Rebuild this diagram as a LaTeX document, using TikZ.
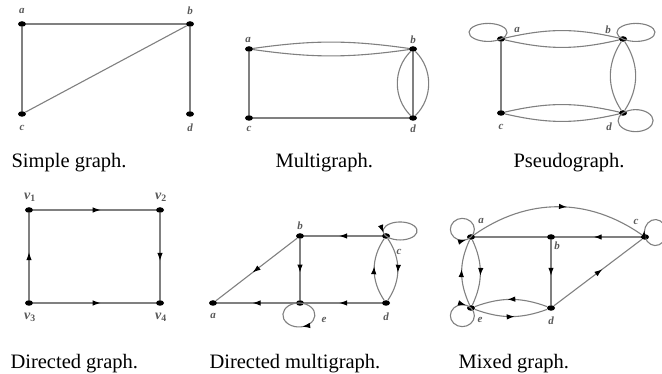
\documentclass[tikz,border=0pt]{standalone}
\usepackage{fontspec}
\setmainfont{Liberation Serif}
\usetikzlibrary{shapes.geometric,arrows.meta,decorations.markings}
\begin{document}
\begin{tikzpicture}[x=1pt,y=-1pt,
 vtx/.style={ellipse,fill=black,inner sep=0pt,minimum width=8pt,minimum height=5.5pt},
 edge/.style={draw=black!50,line width=1.1pt},
 lab/.style={font=\fontsize{11}{12}\selectfont\itshape\bfseries,text=black!65},
 vlab/.style={font=\fontsize{14}{15}\selectfont\bfseries,text=black!65},
 captext/.style={anchor=base west,font=\fontsize{20.5}{24}\selectfont},
 midarrow/.style={postaction={decorate},decoration={markings,mark=at position #1 with {\arrow[black]{Latex[length=8pt,width=5.5pt]}}}},
 midarrow/.default=0.55,
]
\useasboundingbox (0,0) rectangle (662,374);
% ---------- Simple graph
\node[vtx] (sa) at (22,24) {};
\node[vtx] (sb) at (190,24) {};
\node[vtx] (sc) at (22,114) {};
\node[vtx] (sd) at (190,114) {};
\draw[edge] (sa) -- (sb);
\draw[edge] (sa) -- (sc);
\draw[edge] (sb) -- (sc);
\draw[edge] (sb) -- (sd);
\node[lab] (lsa) at (22,11) {a};
\node[lab] (lsb) at (190,11) {b};
\node[lab] (lsc) at (22,128) {c};
\node[lab] (lsd) at (190,128) {d};
\node[captext] (cap1) at (8,168) {Simple graph.};
% ---------- Multigraph
\node[vtx] (ma) at (249,49) {};
\node[vtx] (mb) at (413,49) {};
\node[vtx] (mc) at (249,118) {};
\node[vtx] (md) at (413,118) {};
\draw[edge] (ma) to[bend left=8] (mb);
\draw[edge] (ma) to[bend right=8] (mb);
\draw[edge] (mb) -- (md);
\draw[edge] (mb) to[bend left=45] (md);
\draw[edge] (mb) to[bend right=45] (md);
\draw[edge] (ma) -- (mc);
\draw[edge] (mc) -- (md);
\node[lab] (lma) at (248,40) {a};
\node[lab] (lmb) at (413,40) {b};
\node[lab] (lmc) at (249,129) {c};
\node[lab] (lmd) at (413,129) {d};
\node[captext] (cap2) at (272,168) {Multigraph.};
% ---------- Pseudograph
\node[vtx] (pa) at (501,39) {};
\node[vtx] (pb) at (623,39) {};
\node[vtx] (pc) at (501,113) {};
\node[vtx] (pd) at (623,113) {};
\draw[edge] (pa) to[bend left=13] (pb);
\draw[edge] (pa) to[bend right=13] (pb);
\draw[edge] (pc) to[bend left=13] (pd);
\draw[edge] (pc) to[bend right=13] (pd);
\draw[edge] (pb) to[bend left=33] (pd);
\draw[edge] (pb) to[bend right=33] (pd);
\draw[edge] (pa) -- (pc);
\draw[edge] (pa) arc[start angle=47,end angle=407,x radius=19,y radius=9];
\draw[edge] (pb) arc[start angle=133,end angle=493,x radius=19,y radius=9];
\draw[edge] (pd) arc[start angle=224,end angle=584,x radius=17.5,y radius=11];
\node[lab] (lpa) at (517,30) {a};
\node[lab] (lpb) at (608,30) {b};
\node[lab] (lpc) at (501,127) {c};
\node[lab] (lpd) at (609,127) {d};
\node[captext] (cap3) at (510,168) {Pseudograph.};
% ---------- Directed graph
\node[vtx] (v1) at (29,210) {};
\node[vtx] (v2) at (160,210) {};
\node[vtx] (v3) at (29,303) {};
\node[vtx] (v4) at (160,303) {};
\draw[edge,midarrow] (v1) -- (v2);
\draw[edge,midarrow] (v2) -- (v4);
\draw[edge,midarrow] (v3) -- (v1);
\draw[edge,midarrow] (v3) -- (v4);
\node[vlab] (lv1) at (30,197) {\textit{v}\textsubscript{1}};
\node[vlab] (lv2) at (161,197) {\textit{v}\textsubscript{2}};
\node[vlab] (lv3) at (30,317) {\textit{v}\textsubscript{3}};
\node[vlab] (lv4) at (161,317) {\textit{v}\textsubscript{4}};
\node[captext] (cap4) at (7,369) {Directed graph.};
% ---------- Directed multigraph
\node[vtx] (da) at (213,303) {};
\node[vtx] (db) at (300,236) {};
\node[vtx] (dc) at (386,236) {};
\node[vtx] (dd) at (386,303) {};
\node[vtx] (de) at (300,303) {};
\draw[edge,midarrow] (db) -- (da);
\draw[edge,midarrow] (dc) -- (db);
\draw[edge,midarrow] (db) -- (de);
\draw[edge,midarrow] (de) -- (da);
\draw[edge,midarrow] (dd) -- (de);
\draw[edge,midarrow] (dd) to[bend left=34] (dc);
\draw[edge,midarrow] (dc) to[bend left=34] (dd);
\draw[edge,midarrow=0.95] (dc) arc[start angle=146,end angle=-214,x radius=17,y radius=9];
\draw[edge,midarrow=0.45] (de) arc[start angle=-86,end angle=274,x radius=16,y radius=12];
\node[lab] (lda) at (213,316) {a};
\node[lab] (ldb) at (300,226) {b};
\node[lab] (ldc) at (399,252) {c};
\node[lab] (ldd) at (386,317) {d};
\node[lab] (lde) at (324,320) {e};
\node[captext] (cap5) at (206,369) {Directed multigraph.};
% ---------- Mixed graph
\node[vtx] (xa) at (471,237) {};
\node[vtx] (xb) at (551,237) {};
\node[vtx] (xc) at (645,237) {};
\node[vtx] (xd) at (551,308) {};
\node[vtx] (xe) at (471,308) {};
\draw[edge,midarrow] (xa) to[bend left=35] (xc);
\draw[edge] (xa) -- (xb);
\draw[edge,midarrow] (xc) -- (xb);
\draw[edge,midarrow] (xb) -- (xd);
\draw[edge,midarrow] (xd) -- (xc);
\draw[edge,midarrow] (xe) to[bend left=25] (xa);
\draw[edge,midarrow] (xa) to[bend left=25] (xe);
\draw[edge,midarrow] (xd) to[bend right=20] (xe);
\draw[edge,midarrow] (xe) to[bend right=20] (xd);
\draw[edge,midarrow=0.92] (xa) arc[start angle=44,end angle=-316,x radius=12,y radius=11];
\draw[edge,midarrow=0.92] (xe) arc[start angle=-44,end angle=316,x radius=12,y radius=11];
\draw[edge,midarrow=0.09] (xc) arc[start angle=160,end angle=520,x radius=11,y radius=13];
\node[lab] (lxa) at (481,221) {a};
\node[lab] (lxb) at (557,246) {b};
\node[lab] (lxc) at (636,222) {c};
\node[lab] (lxd) at (551,321) {d};
\node[lab] (lxe) at (480,320) {e};
\node[captext] (cap6) at (455,369) {Mixed graph.};
\end{tikzpicture}
\end{document}
